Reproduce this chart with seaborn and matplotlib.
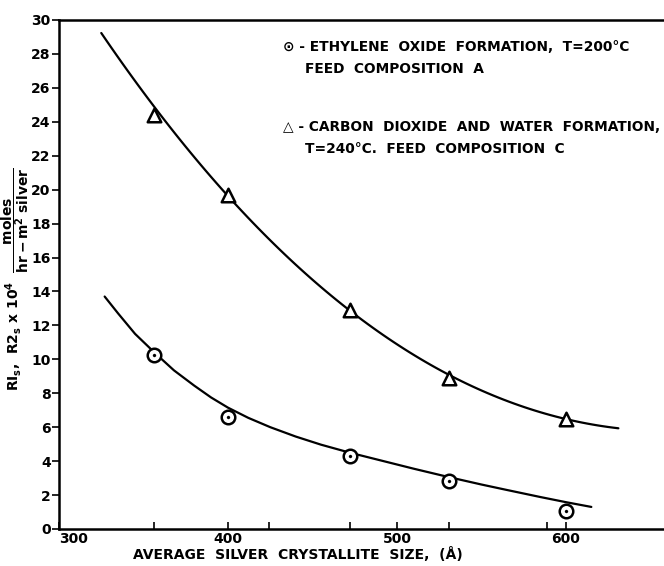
import matplotlib
matplotlib.use("Agg")
import matplotlib.pyplot as plt
import seaborn as sns
import pandas as pd

sns.set_theme(style="white")
plt.rcParams['font.family'] = ['DejaVu Sans']
plt.rcParams['text.color'] = 'black'
plt.rcParams['axes.labelcolor'] = 'black'
plt.rcParams['xtick.color'] = 'black'
plt.rcParams['ytick.color'] = 'black'

# measured points
size_pts = [356, 400, 472, 531, 600]
eo_rate = [10.25, 6.6, 4.3, 2.8, 1.05]        # circles
co2_rate = [24.4, 19.7, 12.9, 8.9, 6.5]       # triangles

# traced fitted curves
co2_curve_x = [325, 340, 356, 375, 400, 435, 472, 500, 531, 565, 600, 631]
co2_curve_y = [29.6, 27.0, 24.5, 22.3, 19.8, 16.3, 13.0, 10.9, 8.95, 7.4, 6.5, 6.0]
eo_curve_x = [327, 335, 345, 357, 368, 380, 390, 400, 412, 425, 440, 455, 472,
              490, 510, 531, 550, 565, 585, 600, 615]
eo_curve_y = [13.7, 12.7, 11.5, 10.35, 9.35, 8.45, 7.75, 7.15, 6.55, 6.0, 5.45,
              4.97, 4.5, 4.05, 3.55, 3.05, 2.62, 2.3, 1.88, 1.58, 1.3]

x_major = [300, 400, 500, 600]
x_minor = [356, 424, 472, 531, 589]
y_ticks = list(range(0, 31, 2))

fig = plt.figure(figsize=(6.64, 5.66), dpi=100)
ax = fig.add_axes([0.0889, 0.0654, 0.9111, 0.8993])

pts = pd.DataFrame({"size": size_pts, "eo": eo_rate, "co2": co2_rate})
sns.regplot(x=co2_curve_x, y=co2_curve_y, order=3, scatter=False, ci=None,
            truncate=True, ax=ax, line_kws=dict(color="black", lw=1.6))
sns.lineplot(x=eo_curve_x, y=eo_curve_y, color="black", lw=1.6, ax=ax,
             estimator=None, sort=True)

sns.scatterplot(data=pts, x="size", y="co2", marker="^", s=95, facecolor="white",
                edgecolor="black", linewidth=1.8, ax=ax, zorder=5)
sns.scatterplot(data=pts, x="size", y="eo", marker="o", s=95, facecolor="white",
                edgecolor="black", linewidth=1.8, ax=ax, zorder=5)
sns.scatterplot(data=pts, x="size", y="eo", marker="o", s=5, color="black",
                edgecolor="black", ax=ax, zorder=6)

ax.set_xlim(300, 658)
ax.set_ylim(0, 30)
ax.set_xticks(x_major)
ax.set_xticks(x_minor, minor=True)
ax.set_yticks(y_ticks)
ax.set_xticklabels([str(v) for v in x_major], fontsize=10, fontweight="bold")
ax.set_yticklabels([str(v) for v in y_ticks], fontsize=10, fontweight="bold")
ax.get_xticklabels()[0].set_horizontalalignment("left")
ax.tick_params(axis="x", direction="in", length=5, width=1.2, pad=2,
               bottom=True, which="both")
ax.tick_params(axis="y", direction="out", length=5, width=1.2, pad=1, left=True)

for s in ["left", "bottom", "top"]:
    ax.spines[s].set_linewidth(1.8)
    ax.spines[s].set_color("black")
ax.spines["right"].set_visible(False)

ax.set_xlabel("AVERAGE  SILVER  CRYSTALLITE  SIZE,  (Å)", fontsize=10,
              fontweight="bold")
ax.xaxis.set_label_coords(0.395, -0.036)
ax.set_ylabel(r"RI$_\mathbf{s}$,  R2$_\mathbf{s}$ x 10$^\mathbf{4}$  "
              r"$\dfrac{\mathbf{moles}}{\mathbf{hr-m^2\ silver}}$",
              fontsize=10, fontweight="bold")
ax.yaxis.set_label_coords(-0.047, 0.49)

txt = dict(transform=fig.transFigure, fontsize=9.9, fontweight="bold",
           ha="left", va="center", color="black")
fig.text(283 / 664, 1 - 47 / 566, "⊙ - ETHYLENE  OXIDE  FORMATION,  T=200°C", **txt)
fig.text(305 / 664, 1 - 69 / 566, "FEED  COMPOSITION  A", **txt)
fig.text(283 / 664, 1 - 127 / 566, "△ - CARBON  DIOXIDE  AND  WATER  FORMATION,", **txt)
fig.text(305 / 664, 1 - 149 / 566, "T=240°C.  FEED  COMPOSITION  C", **txt)

fig.savefig("out.png", dpi=100)
